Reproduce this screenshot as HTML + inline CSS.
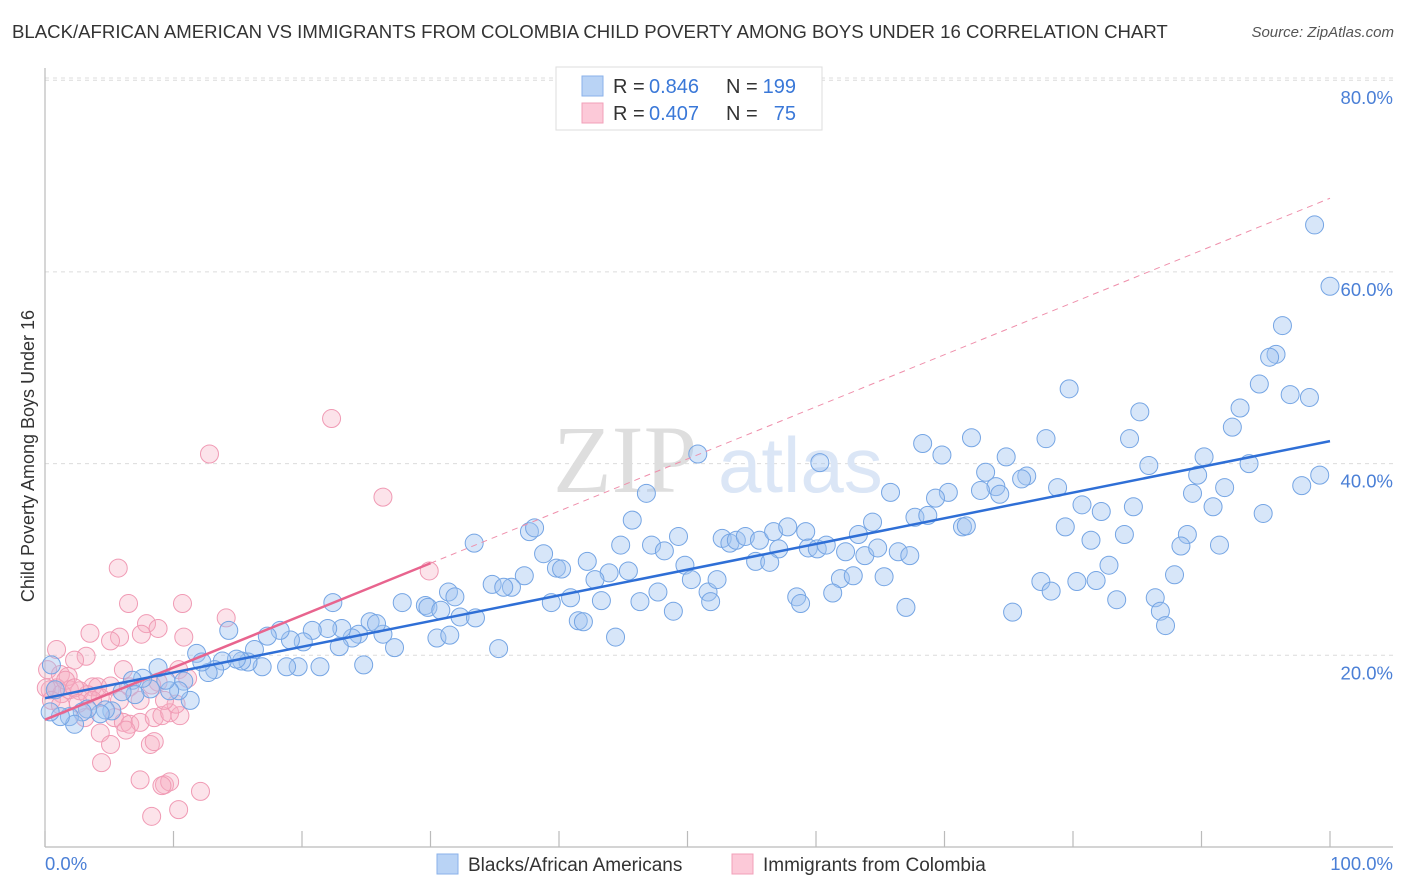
<!DOCTYPE html>
<html><head><meta charset="utf-8">
<style>
body{margin:0;background:#fff;font-family:"Liberation Sans",sans-serif;}
#wrap{position:relative;width:1406px;height:892px;overflow:hidden;}
.title{position:absolute;left:12px;top:21px;font-size:18.6px;color:#333;white-space:nowrap}
.source{position:absolute;right:12px;top:24px;font-size:15px;color:#555;font-style:italic}
</style></head><body>
<div id="wrap">
<div class="title">BLACK/AFRICAN AMERICAN VS IMMIGRANTS FROM COLOMBIA CHILD POVERTY AMONG BOYS UNDER 16 CORRELATION CHART</div>
<div class="source">Source: ZipAtlas.com</div>
<svg id="chart" width="1406" height="892" style="position:absolute;left:0;top:0"></svg>
</div>
<script>
const yTicks=[20,40,60,80];
const yTickLabels=["20.0%","40.0%","60.0%","80.0%"];
const xTickLabels=["0.0%","100.0%"];
const blueX=[98.8,100,96.3,95.8,95.3,94.5,96.9,98.4,93,92.4,79.7,85.2,84.4,72.1,68.3,77.9,69.8,74.8,85.9,90.2,93.7,99.2,97.8,89.7,89.3,91.8,90.9,94.8,76.4,76,73.2,74,74.3,72.8,70.3,69.3,78.8,80.7,82.2,84.7,65.8,60.3,50.8,46.8,45.7,37.7,38.1,33.4,38.8,39.8,40.2,42.2,43.9,44.8,47.2,48.2,49.3,49.8,45.4,42.8,37.3,34.8,36.3,35.7,31.4,31.9,27.8,29.6,29.8,30.8,32.3,33.5,39.4,40.9,43.3,46.3,47.7,48.9,50.3,51.6,52.3,51.8,52.7,53.3,53.8,54.5,55.6,56.7,57.8,59.2,59.4,57.1,55.3,56.4,58.5,58.8,60.1,60.8,62.3,63.3,64.4,63.8,64.8,66.4,67.3,61.9,62.9,65.3,61.3,67,67.7,68.7,71.4,71.7,79.4,81.4,82.8,84,88.9,88.4,91.4,87.9,77.5,78.3,80.3,81.8,83.4,86.4,86.8,87.2,75.3,35.3,44.4,41.5,41.9,30.5,31.5,27.2,26.3,25.3,25.8,24.4,23.9,23.1,22.9,22.4,22,20.8,21.4,20.1,19.7,18.8,19.1,18.3,17.3,16.9,16.3,15.8,15.3,14.9,14.3,13.8,13.2,12.7,11.8,12.2,24.8,11.3,10.8,10.4,9.7,9.4,8.8,8.2,7.6,6.8,7,6,5.2,4.7,4.3,3.3,2.9,1.9,2.3,1.2,0.4,0.5,0.8];
const blueY=[64.9,58.5,54.4,51.4,51.1,48.3,47.2,46.9,45.8,43.8,47.8,45.4,42.6,42.7,42.1,42.6,40.9,40.7,39.8,40.7,40,38.8,37.7,38.8,36.9,37.5,35.5,34.8,38.7,38.4,39.1,37.6,36.8,37.2,37,36.4,37.5,35.7,35,35.5,37,40.1,41,36.9,34.1,32.9,33.3,31.7,30.6,29.1,29,29.8,28.6,31.5,31.5,30.9,32.4,29.4,28.8,27.9,28.3,27.4,27.1,27.1,26.6,26.1,25.5,25.2,25,24.7,24,23.9,25.5,26,25.7,25.6,26.6,24.6,27.9,26.6,27.9,25.6,32.2,31.7,32,32.4,32,32.9,33.4,32.9,31.2,31.1,29.8,29.7,26.1,25.4,31.1,31.5,30.8,32.6,33.9,30.4,31.2,30.8,30.4,28,28.3,28.2,26.5,25,34.4,34.6,33.4,33.5,33.4,32,29.4,32.6,32.6,31.4,31.5,28.4,27.7,26.7,27.7,27.8,25.8,26,24.6,23.1,24.5,20.7,21.9,23.6,23.5,21.8,22.1,20.8,22.2,23.5,23.3,22.2,21.8,22.8,20.9,25.5,22.8,22.6,18.8,21.4,18.8,18.8,21.6,22.6,22,18.8,20.6,19.3,19.4,19.6,22.6,19.4,18.5,18.2,20.2,19.3,19,15.3,17.3,16.3,16.3,17.4,18.7,16.5,17.6,17.4,15.9,16.2,14.2,14.3,13.9,14.4,14.1,13.6,12.8,13.6,14.1,19,16.4];
const pinkX=[22.3,12.8,26.3,29.9,5.7,6.5,10.7,7.9,8.8,7.5,3.5,10.8,5.8,5.1,14.1,0.9,3.2,2.3,0.2,6.1,10.4,1.2,1.8,3.7,4.1,5.1,6.6,8.8,8.3,11.1,0.4,0.9,1.3,1.9,2.7,3.3,4.3,5.4,6.1,6.6,7.4,8.5,9.1,9.7,10.5,4.3,5.1,6.3,8.2,10.2,4.4,8.5,7.4,9.3,9.7,9.1,12.1,10.4,8.3,0.1,0.5,1.2,1.6,2.3,3.7,3.1,2.6,7.4,5.8,9.3];
const pinkY=[44.7,41,36.5,28.8,29.1,25.4,25.4,23.3,22.8,22.2,22.3,21.9,21.9,21.5,23.9,20.6,19.9,19.5,18.5,18.5,18.5,18,17.8,16.7,16.7,16.8,16.7,17.2,16.9,17.6,16.4,16.6,16,16.4,16.3,15.9,15.6,13.5,13,12.8,13,13.5,13.7,14,13.7,11.9,10.7,12.2,10.7,14.9,8.8,11,7,6.5,6.8,6.4,5.8,3.9,3.2,16.6,15.3,14.8,17.4,16.6,15.3,13.5,15,15.3,15.3,15.3];

const NS="http://www.w3.org/2000/svg";
const svg=document.getElementById('chart');
const X0=45,X1=1330,Y0=847,YPER=9.585;
function sx(v){return X0+(X1-X0)*v/100;}
function sy(v){return Y0-YPER*v;}
function mk(tag,attrs,parent){const e=document.createElementNS(NS,tag);for(const k in attrs)e.setAttribute(k,attrs[k]);(parent||svg).appendChild(e);return e;}

yTicks.forEach((t,i)=>{
  const g=mk('line',{x1:45,x2:1393,y1:sy(t),y2:sy(t),stroke:'#dcdcdc','stroke-dasharray':'4,4','stroke-width':1});
  
  
  const tx=mk('text',{x:1393,y:sy(t)+24,'text-anchor':'end','font-size':18.5,fill:'#4a7fd6'});
  tx.textContent=yTickLabels[i];
  
  
});
const topLine=mk('line',{x1:45,x2:1393,y1:78,y2:78,stroke:'#dcdcdc','stroke-dasharray':'4,4'});


const ya=mk('line',{x1:45,x2:45,y1:68,y2:847,stroke:'#bbb','stroke-width':1.2});


const xa=mk('line',{x1:45,x2:1393,y1:847,y2:847,stroke:'#bbb','stroke-width':1.2});


for(let i=0;i<=10;i++){
  const tk=mk('line',{x1:sx(i*10),x2:sx(i*10),y1:831,y2:847,stroke:'#bbb','stroke-width':1.2});
  
  
}
const xl0=mk('text',{x:45,y:870,'font-size':18.5,fill:'#4a7fd6'});xl0.textContent=xTickLabels[0];


const xl1=mk('text',{x:1393,y:870,'font-size':18.5,fill:'#4a7fd6','text-anchor':'end'});xl1.textContent=xTickLabels[1];


const yt=mk('text',{x:0,y:0,'font-size':18,fill:'#333','text-anchor':'middle',transform:'translate(34,456) rotate(-90)'});
yt.textContent='Child Poverty Among Boys Under 16';


const wm=mk('text',{x:553,y:492,'font-size':96,fill:'#dedede','font-family':'Liberation Serif, serif'});wm.textContent='ZIP';


const wm2=mk('text',{x:718,y:492,'font-size':78,fill:'#dbe6f6'});wm2.textContent='atlas';



function fit(xs,ys){const n=xs.length;let mx=0,my=0;for(let i=0;i<n;i++){mx+=xs[i];my+=ys[i];}mx/=n;my/=n;let a=0,b=0;for(let i=0;i<n;i++){a+=(xs[i]-mx)*(ys[i]-my);b+=(xs[i]-mx)**2;}const s=a/b;return [s,my-s*mx];}

pinkX.forEach((v,i)=>{
  const c=mk('circle',{cx:sx(v),cy:sy(pinkY[i]),r:9,fill:'rgba(246,176,196,0.35)',stroke:'#f09ab4','stroke-width':1});
  
  
});
blueX.forEach((v,i)=>{
  const c=mk('circle',{cx:sx(v),cy:sy(blueY[i]),r:9,fill:'rgba(160,196,240,0.42)',stroke:'#75a5e4','stroke-width':1});
  
  
});
const [pb,pa]=fit(pinkX,pinkY);
const pd=mk('line',{x1:sx(30),y1:sy(pa+pb*30),x2:sx(100),y2:sy(pa+pb*100),stroke:'#ef8fab','stroke-width':1,'stroke-dasharray':'6,5'});


const ps=mk('line',{x1:sx(0),y1:sy(pa),x2:sx(30),y2:sy(pa+pb*30),stroke:'#e8648e','stroke-width':2.5});


const [bb,ba]=fit(blueX,blueY);
const bline=mk('line',{x1:sx(0),y1:sy(ba),x2:sx(100),y2:sy(ba+bb*100),stroke:'#2f6fd6','stroke-width':2.5});



const lg=mk('g',{});


mk('rect',{x:556,y:67,width:266,height:63,fill:'#fff',stroke:'#ddd'},lg);
mk('rect',{x:582,y:76,width:21,height:20,fill:'#b9d3f5',stroke:'#8ab2ea'},lg);
mk('rect',{x:582,y:103,width:21,height:20,fill:'#fcc9d8',stroke:'#f2a0b9'},lg);
function lt(x,y,t,c,anchor){const e=mk('text',{x:x,y:y,'font-size':20,fill:c,'text-anchor':anchor||'start'},lg);e.textContent=t;return e;}
lt(613,93,'R = ','#333');lt(649,93,'0.846','#3a78d8');lt(726,93,'N = ','#333');lt(796,93,'199','#3a78d8','end');
lt(613,120,'R = ','#333');lt(649,120,'0.407','#3a78d8');lt(726,120,'N = ','#333');lt(796,120,'75','#3a78d8','end');

const bsw1=mk('rect',{x:437,y:854,width:21,height:20,fill:'#b9d3f5',stroke:'#8ab2ea'});


const bt1=mk('text',{x:468,y:871,'font-size':19,fill:'#333'});bt1.textContent='Blacks/African Americans';


const bsw2=mk('rect',{x:732,y:854,width:21,height:20,fill:'#fcc9d8',stroke:'#f2a0b9'});


const bt2=mk('text',{x:763,y:871,'font-size':19,fill:'#333'});bt2.textContent='Immigrants from Colombia';


</script>
</body></html>
